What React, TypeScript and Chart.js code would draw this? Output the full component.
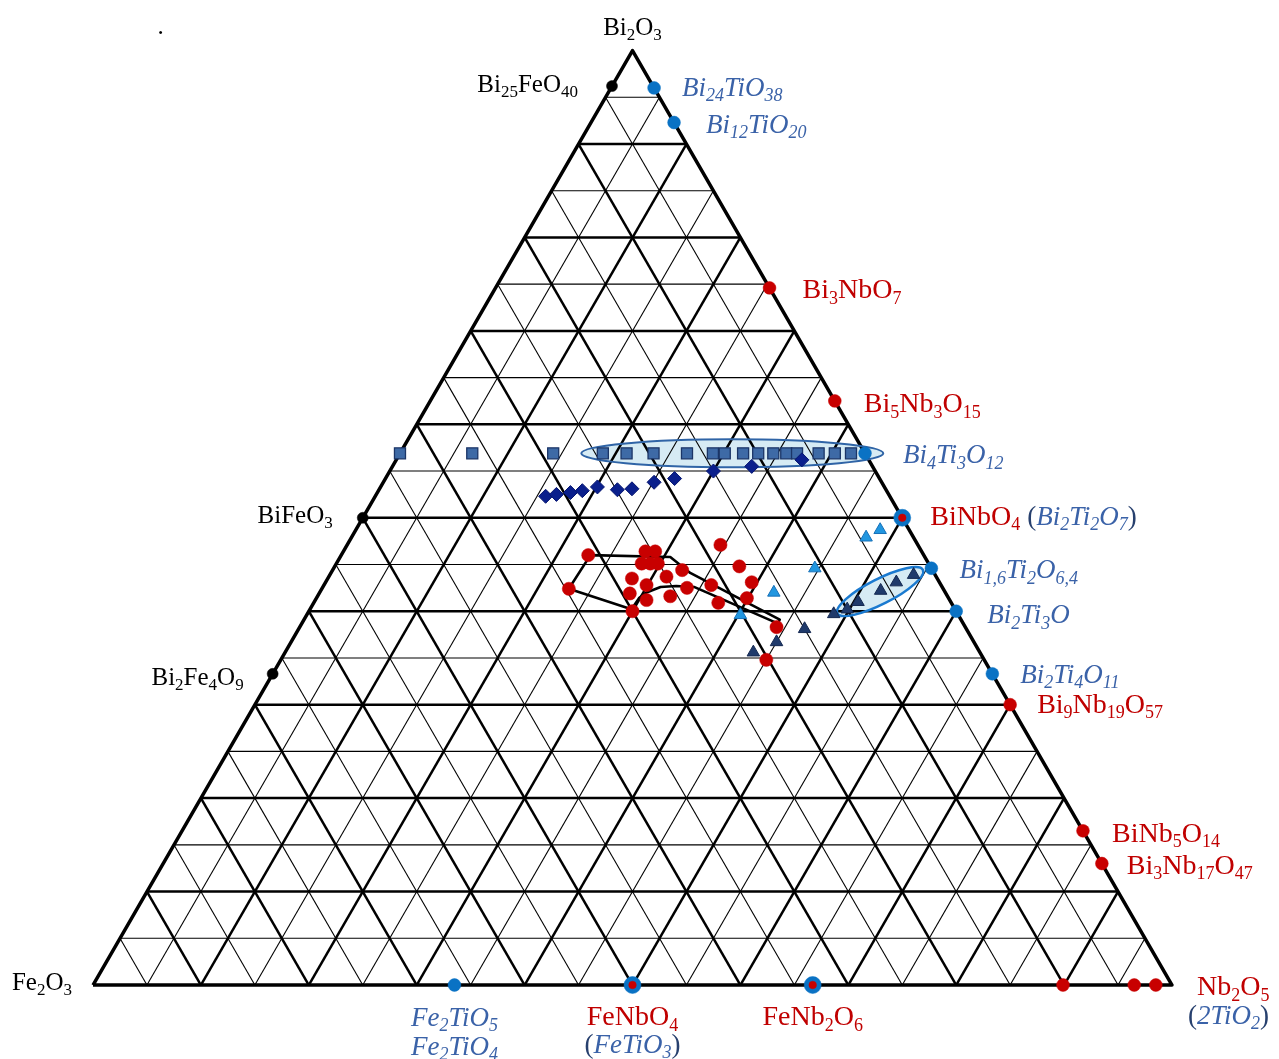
import React, { useEffect, useRef } from 'react';
import { Chart, registerables } from 'chart.js';

Chart.register(...registerables);

const W = 1279;
const H = 1059;

// ---------- DATA (mol %): bi = Bi2O3, nb = Nb2O5 (≡ 2TiO2); Fe2O3 = 100 − bi − nb ----------
const gridStep = 5;
const majorStep = 10;

// Bi2O3–Fe2O3 phases (black)
const ferriteNames = ['Bi{25}FeO{40}', 'BiFeO{3}', 'Bi{2}Fe{4}O{9}'];
const ferriteBi = [96.2, 50, 33.3];
const ferriteNb = [0, 0, 0];

// niobates (red)
const niobateNames = ['Bi{3}NbO{7}', 'Bi{5}Nb{3}O{15}', 'Bi{9}Nb{19}O{57}', 'BiNb{5}O{14}', 'Bi{3}Nb{17}O{47}', '', '', ''];
const niobateBi = [74.6, 62.5, 30, 16.5, 13, 0, 0, 0];
const niobateNb = [25.4, 37.5, 70, 83.5, 87, 89.9, 96.5, 98.5];

// titanates (blue)
const titanateNames = ['Bi{24}TiO{38}', 'Bi{12}TiO{20}', 'Bi{4}Ti{3}O{12}', 'Bi{1,6}Ti{2}O{6,4}', 'Bi{2}Ti{3}O', 'Bi{2}Ti{4}O{11}', 'Fe{2}TiO{5}'];
const titanateBi = [96, 92.3, 56.9, 44.6, 40, 33.3, 0];
const titanateNb = [4, 7.7, 43.1, 55.4, 60, 66.7, 33.5];

// shared niobate / titanate compositions (red dot in blue ring)
const sharedNames = ['BiNbO{4}', 'FeNbO{4}', 'FeNb{2}O{6}'];
const sharedBi = [50, 0, 0];
const sharedNb = [50, 50, 66.7];

// series: squares
const squareBi = [56.9, 56.9, 56.9, 56.9, 56.9, 56.9, 56.9, 56.9, 56.9, 56.9, 56.9, 56.9, 56.9, 56.9, 56.9, 56.9, 56.9];
const squareNb = [0, 6.7, 14.2, 18.8, 21.0, 23.5, 26.6, 29.0, 30.1, 31.8, 33.2, 34.6, 35.8, 36.8, 38.8, 40.3, 41.8];

// series: diamonds
const diamondBi = [52.3, 52.5, 52.7, 52.9, 53.3, 53.0, 53.1, 53.8, 54.2, 55.0, 55.5, 56.2];
const diamondNb = [15.8, 16.7, 17.9, 18.9, 20.1, 22.1, 23.4, 25.1, 26.8, 30.0, 33.3, 37.6];

// series: red circles
const circleBi = [46.0, 42.4, 46.4, 46.4, 45.1, 45.1, 45.1, 43.5, 42.8, 43.7, 44.4, 41.9, 41.2, 41.6, 42.5, 42.8, 40.9, 41.4, 43.1, 44.8, 47.1, 40.0, 38.3, 34.8];
const circleNb = [22.9, 22.9, 28.0, 28.9, 28.3, 29.1, 29.8, 28.2, 29.9, 31.3, 32.4, 28.8, 30.7, 32.7, 33.8, 35.9, 37.5, 39.9, 39.5, 37.5, 34.6, 30.0, 44.2, 45.0];

// series: light triangles
const lightTriBi = [48.7, 47.9, 44.6, 42.0, 39.6];
const lightTriNb = [48.6, 47.7, 44.6, 42.1, 40.2];

// series: dark triangles
const darkTriBi = [43.9, 43.1, 42.2, 41.0, 40.2, 39.7, 38.1, 36.7, 35.6];
const darkTriNb = [54.1, 52.9, 51.9, 50.4, 49.8, 48.8, 46.9, 45.0, 43.4];

// outlined region
const regionBi = [42.4, 46.0, 45.8, 45.3, 44.1, 39.1, 38.7, 42.6, 42.7, 42.6, 42.0, 41.4, 40.2, 42.4];
const regionNb = [22.9, 23.1, 30.6, 31.4, 33.3, 44.1, 44.1, 34.4, 32.7, 31.3, 30.3, 29.9, 29.8, 22.9];

// highlighted groups (centre composition)
const ellipseCenters = [[56.9, 30.8], [42.1, 51.9]];

// ---------- layout / styles ----------
const ellipseShapes = [
  { rx: 151, ry: 14, angle: 0, stroke: '#2f64a6', width: 2 },
  { rx: 48, ry: 12.5, angle: -27, stroke: '#1a7ad0', width: 2.5 },
];

const textStyles: any = {
  black: { color: '#000000', size: 25, italic: false },
  red: { color: '#c00000', size: 28, italic: false },
  blue: { color: '#3a62a8', size: 27, italic: true },
  paren: { color: '#27406e', size: 27, italic: false },
};

const SQ = Math.sqrt(3) / 2;
const toXY = (bi: number, nb: number) => ({ x: nb / 100 + bi / 200, y: (bi / 100) * SQ });
const pts = (bi: number[], nb: number[]) => bi.map((b, i) => toXY(b, nb[i]));

type Label = { parts: [string, string][]; at: [number, number]; dx: number; dy: number; align?: string };

const labelLayout: Label[] = [
  { parts: [['.', 'black']], at: [100, 0], dx: -472, dy: -17, align: 'center' },
  { parts: [['Bi{2}O{3}', 'black']], at: [100, 0], dx: 0, dy: -16, align: 'center' },
  { parts: [[ferriteNames[0], 'black']], at: [ferriteBi[0], ferriteNb[0]], dx: -34, dy: 5.5, align: 'right' },
  { parts: [[ferriteNames[1], 'black']], at: [ferriteBi[1], ferriteNb[1]], dx: -30, dy: 5, align: 'right' },
  { parts: [[ferriteNames[2], 'black']], at: [ferriteBi[2], ferriteNb[2]], dx: -29, dy: 11, align: 'right' },
  { parts: [['Fe{2}O{3}', 'black']], at: [0, 0], dx: -21, dy: 5, align: 'right' },
  { parts: [[titanateNames[0], 'blue']], at: [titanateBi[0], titanateNb[0]], dx: 28, dy: 8 },
  { parts: [[titanateNames[1], 'blue']], at: [titanateBi[1], titanateNb[1]], dx: 32, dy: 10 },
  { parts: [[niobateNames[0], 'red']], at: [niobateBi[0], niobateNb[0]], dx: 33, dy: 10 },
  { parts: [[niobateNames[1], 'red']], at: [niobateBi[1], niobateNb[1]], dx: 29, dy: 11 },
  { parts: [[titanateNames[2], 'blue']], at: [titanateBi[2], titanateNb[2]], dx: 38, dy: 10 },
  { parts: [[sharedNames[0] + ' ', 'red'], ['(', 'paren'], ['Bi{2}Ti{2}O{7}', 'blue'], [')', 'paren']], at: [sharedBi[0], sharedNb[0]], dx: 28, dy: 7 },
  { parts: [[titanateNames[3], 'blue']], at: [titanateBi[3], titanateNb[3]], dx: 28, dy: 10 },
  { parts: [[titanateNames[4], 'blue']], at: [titanateBi[4], titanateNb[4]], dx: 31, dy: 12 },
  { parts: [[titanateNames[5], 'blue']], at: [titanateBi[5], titanateNb[5]], dx: 28, dy: 9 },
  { parts: [[niobateNames[2], 'red']], at: [niobateBi[2], niobateNb[2]], dx: 27, dy: 8 },
  { parts: [[niobateNames[3], 'red']], at: [niobateBi[3], niobateNb[3]], dx: 29, dy: 11 },
  { parts: [[niobateNames[4], 'red']], at: [niobateBi[4], niobateNb[4]], dx: 25, dy: 10 },
  { parts: [['Nb{2}O{5}', 'red']], at: [0, 100], dx: 25, dy: 10 },
  { parts: [['(', 'paren'], ['2TiO{2}', 'blue'], [')', 'paren']], at: [0, 100], dx: 16, dy: 39 },
  { parts: [[titanateNames[6], 'blue']], at: [titanateBi[6], titanateNb[6]], dx: 0, dy: 41, align: 'center' },
  { parts: [['Fe{2}TiO{4}', 'blue']], at: [titanateBi[6], titanateNb[6]], dx: 0, dy: 70, align: 'center' },
  { parts: [[sharedNames[1], 'red']], at: [sharedBi[1], sharedNb[1]], dx: 0, dy: 40, align: 'center' },
  { parts: [['(', 'paren'], ['FeTiO{3}', 'blue'], [')', 'paren']], at: [sharedBi[1], sharedNb[1]], dx: 0, dy: 68, align: 'center' },
  { parts: [[sharedNames[2], 'red']], at: [sharedBi[2], sharedNb[2]], dx: 0, dy: 40, align: 'center' },
];

const FONT = '"Liberation Serif", "Times New Roman", serif';

function drawRich(ctx: CanvasRenderingContext2D, parts: [string, string][], x: number, y: number, align?: string) {
  const segs: any[] = [];
  for (const [text, key] of parts) {
    const st = textStyles[key];
    const re = /([^{]+)|\{([^}]*)\}/g;
    let m: RegExpExecArray | null;
    while ((m = re.exec(text))) {
      if (m[1] !== undefined) segs.push({ t: m[1], sub: false, st });
      else segs.push({ t: m[2], sub: true, st });
    }
  }
  const fontOf = (s: any) => `${s.st.italic ? 'italic ' : ''}${s.sub ? Math.round(s.st.size * 0.66) : s.st.size}px ${FONT}`;
  let total = 0;
  for (const s of segs) {
    ctx.font = fontOf(s);
    s.w = ctx.measureText(s.t).width;
    total += s.w;
  }
  let cx = align === 'right' ? x - total : align === 'center' ? x - total / 2 : x;
  ctx.textAlign = 'left';
  ctx.textBaseline = 'alphabetic';
  for (const s of segs) {
    ctx.font = fontOf(s);
    ctx.fillStyle = s.st.color;
    ctx.fillText(s.t, cx, y + (s.sub ? s.st.size * 0.2 : 0));
    cx += s.w;
  }
}

const pixelOf = (chart: any, bi: number, nb: number) => {
  const p = toXY(bi, nb);
  return { x: chart.scales.x.getPixelForValue(p.x), y: chart.scales.y.getPixelForValue(p.y) };
};

function ellipsePath(chart: any, i: number) {
  const ctx = chart.ctx as CanvasRenderingContext2D;
  const c = pixelOf(chart, ellipseCenters[i][0], ellipseCenters[i][1]);
  const e = ellipseShapes[i];
  ctx.beginPath();
  ctx.ellipse(c.x, c.y, e.rx, e.ry, (e.angle * Math.PI) / 180, 0, Math.PI * 2);
}

const decorPlugin = {
  id: 'decor',
  beforeDatasetsDraw(chart: any) {
    const ctx = chart.ctx as CanvasRenderingContext2D;
    ctx.save();
    for (let i = 0; i < ellipseCenters.length; i++) {
      ellipsePath(chart, i);
      ctx.fillStyle = '#d6ebf4';
      ctx.fill();
    }
    ctx.restore();
  },
  afterDatasetDraw(chart: any, args: any) {
    if (args.meta && args.meta.label === 'outline') {
      const ctx = chart.ctx as CanvasRenderingContext2D;
      ctx.save();
      for (let i = 0; i < ellipseCenters.length; i++) {
        ellipsePath(chart, i);
        ctx.strokeStyle = ellipseShapes[i].stroke;
        ctx.lineWidth = ellipseShapes[i].width;
        ctx.stroke();
      }
      ctx.restore();
    }
  },
  afterDraw(chart: any) {
    const ctx = chart.ctx as CanvasRenderingContext2D;
    ctx.save();
    for (const l of labelLayout) {
      const p = pixelOf(chart, l.at[0], l.at[1]);
      drawRich(ctx, l.parts, p.x + l.dx, p.y + l.dy, l.align);
    }
    ctx.restore();
  },
};

export default function App() {
  const ref = useRef<HTMLCanvasElement>(null);
  useEffect(() => {
    const canvas = ref.current;
    if (!canvas) return;
    const datasets: any[] = [];
    const lineDs = (label: string, data: any[], width: number, order: number) => ({
      label, data, showLine: true, borderColor: '#000', borderWidth: width, pointRadius: 0, pointHoverRadius: 0,
      fill: false, tension: 0, order, borderJoinStyle: 'round', clip: false,
    });
    // grid
    for (let k = gridStep; k < 100; k += gridStep) {
      const w = k % majorStep === 0 ? 2.5 : 1.1;
      datasets.push(lineDs('grid', [toXY(k, 0), toXY(k, 100 - k)], w, 100));
      datasets.push(lineDs('grid', [toXY(0, k), toXY(100 - k, k)], w, 100));
      datasets.push(lineDs('grid', [toXY(0, 100 - k), toXY(100 - k, 0)], w, 100));
    }
    datasets.push(lineDs('outline', [toXY(0, 0), toXY(0, 100), toXY(100, 0), toXY(0, 0)], 3.5, 90));
    datasets.push(lineDs('region', pts(regionBi, regionNb), 2.6, 50));

    const markers = (label: string, data: any[], style: string, r: number, bg: string, bd: string, bw: number, order: number) => ({
      label, data, showLine: false, pointStyle: style, pointRadius: r, pointHoverRadius: r,
      backgroundColor: bg, borderColor: bd, borderWidth: bw, order, clip: false,
    });
    datasets.push(markers('squares', pts(squareBi, squareNb), 'rect', 7.8, '#3e6aa6', '#1b3567', 1.3, 12));
    datasets.push(markers('diamonds', pts(diamondBi, diamondNb), 'rectRot', 7, '#0a1f8c', '#061670', 1, 11));
    datasets.push(markers('circles', pts(circleBi, circleNb), 'circle', 6.6, '#c80000', '#c80000', 0.5, 10));
    datasets.push(markers('lightTri', pts(lightTriBi, lightTriNb), 'triangle', 7.2, '#2196e0', '#1670b8', 1, 9));
    datasets.push(markers('darkTri', pts(darkTriBi, darkTriNb), 'triangle', 7.2, '#1f3a6b', '#142850', 1, 8));
    datasets.push(markers('ferrites', pts(ferriteBi, ferriteNb), 'circle', 5.5, '#000', '#000', 0.5, 7));
    datasets.push(markers('niobates', pts(niobateBi, niobateNb), 'circle', 6.4, '#c80000', '#c80000', 0.5, 7));
    datasets.push(markers('titanates', pts(titanateBi, titanateNb), 'circle', 6.4, '#0a72c4', '#0a72c4', 0.5, 7));
    datasets.push(markers('sharedRing', pts(sharedBi, sharedNb), 'circle', 8.5, '#0a72c4', '#0a72c4', 0.5, 6));
    datasets.push(markers('sharedCore', pts(sharedBi, sharedNb), 'circle', 3.8, '#c80000', '#c80000', 0.5, 5));

    const chart = new Chart(canvas, {
      type: 'scatter',
      data: { datasets },
      options: {
        animation: false,
        responsive: false,
        devicePixelRatio: 1,
        events: [],
        layout: { padding: 0, autoPadding: false },
        plugins: { legend: { display: false }, tooltip: { enabled: false }, title: { display: false } },
        scales: {
          x: { type: 'linear', display: false, min: -93 / 1079, max: 1186 / 1079 },
          y: { type: 'linear', display: false, min: -74 / 1079, max: 985 / 1079 },
        },
      } as any,
      plugins: [decorPlugin],
    });
    return () => chart.destroy();
  }, []);
  return (
    <div style={{ position: 'absolute', left: 0, top: 0, width: W, height: H, background: '#fff' }}>
      <canvas ref={ref} width={W} height={H} style={{ display: 'block', width: W, height: H }} />
    </div>
  );
}
